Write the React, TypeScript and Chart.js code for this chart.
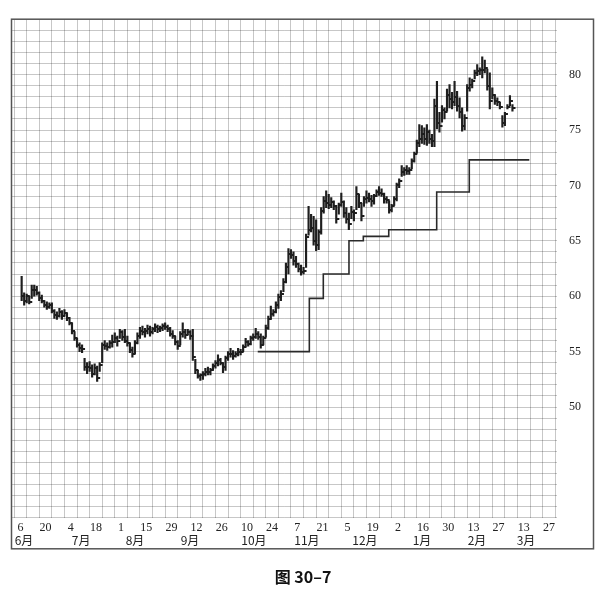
import React, { useEffect, useRef } from "react";
import { Chart, registerables } from "chart.js";

Chart.register(...registerables);

// x unit = one week column (week 0 = the week of June 6)
const dateLabels = ["6", "20", "4", "18", "1", "15", "29", "12", "26", "10", "24", "7", "21", "5", "19", "2", "16", "30", "13", "27", "13", "27"];
const monthLabels = ["6月", "7月", "8月", "9月", "10月", "11月", "12月", "1月", "2月", "3月"];
const monthWeeks = [0.79, 5.32, 9.61, 13.98, 19.06, 23.27, 27.88, 32.41, 36.78, 40.68];
const yTickLabels = [50, 55, 60, 65, 70, 75, 80];
const caption = "图 30–7";

// daily bars: first bar in week 0.6, five trading days per week
const firstBarWeek = 0.6;
const barsPerWeek = 5;

const highs = [
  61.8, 60.3, 60.2, 60.0, 61.0, 61.0, 60.9, 60.4, 60.1, 59.6,
  59.5, 59.4, 59.4, 58.8, 58.6, 58.9, 58.7, 58.8, 58.5, 58.1,
  57.6, 56.8, 56.2, 55.8, 55.6, 54.4, 54.0, 54.1, 53.8, 53.9,
  53.7, 54.0, 55.8, 56.0, 55.8, 56.0, 56.5, 56.7, 56.4, 57.0,
  56.9, 57.0, 56.4, 55.8, 55.4, 56.0, 56.7, 57.2, 57.3, 57.1,
  57.4, 57.3, 57.2, 57.5, 57.4, 57.3, 57.5, 57.6, 57.4, 57.2,
  56.9, 56.4, 56.0, 56.8, 57.6, 57.0, 57.0, 56.9, 57.0, 54.3,
  53.3, 53.0, 53.2, 53.5, 53.6, 53.5, 53.9, 54.2, 54.7, 54.4,
  54.0, 54.6, 55.0, 55.3, 55.1, 55.0, 55.3, 55.2, 55.6, 56.2,
  56.0, 56.4, 56.6, 57.1, 56.8, 56.6, 56.4, 57.4, 58.2, 59.1,
  58.8, 59.5, 60.2, 60.5, 61.6, 63.0, 64.3, 64.2, 64.0, 63.6,
  63.0, 62.8, 62.6, 65.6, 68.1, 67.4, 67.2, 66.9, 66.0, 68.0,
  69.0, 69.5, 69.2, 68.9, 68.6, 68.2, 68.4, 69.3, 68.6, 68.0,
  67.5, 68.1, 67.8, 69.9, 69.2, 68.4, 69.0, 69.5, 69.3, 69.1,
  69.2, 69.6, 69.9, 69.7, 69.3, 69.0, 68.6, 68.3, 69.0, 70.2,
  70.6, 71.8, 71.6, 71.8, 71.6, 72.4, 73.0, 74.1, 75.5, 75.4,
  75.2, 75.5, 75.0, 74.6, 77.8, 79.4, 76.6, 77.2, 77.0, 78.7,
  79.1, 78.4, 79.4, 78.5, 77.9, 77.0, 76.4, 79.1, 79.7, 79.6,
  80.4, 80.9, 80.6, 81.6, 81.3, 80.5, 80.15, 78.8, 78.2, 77.9,
  77.5, 76.3, 76.6, 77.3, 78.1, 77.3,
];

const lows = [
  59.6, 59.2, 59.4, 59.3, 59.8, 60.0, 60.1, 59.6, 59.4, 59.0,
  58.8, 58.9, 58.5, 58.0, 57.9, 58.1, 57.9, 58.2, 57.8, 57.4,
  56.6, 56.0, 55.4, 55.0, 54.9, 53.3, 53.0, 53.2, 52.7, 52.9,
  52.3, 53.2, 54.0, 55.2, 55.1, 55.3, 55.4, 55.8, 55.5, 56.2,
  56.0, 55.8, 55.5, 54.9, 54.5, 54.8, 55.7, 56.2, 56.5, 56.3,
  56.6, 56.4, 56.6, 56.8, 56.7, 56.8, 56.9, 57.0, 56.8, 56.4,
  56.2, 55.6, 55.2, 55.6, 56.3, 56.2, 56.5, 56.1, 54.2, 53.0,
  52.6, 52.4, 52.5, 52.8, 52.9, 52.9, 53.3, 53.5, 53.7, 53.8,
  53.1, 53.3, 54.2, 54.5, 54.3, 54.5, 54.6, 54.7, 55.0, 55.4,
  55.5, 55.6, 56.0, 56.2, 56.1, 55.3, 55.6, 56.3, 57.0, 57.9,
  58.2, 58.5, 58.9, 59.6, 60.4, 61.2, 62.0, 63.4, 62.8, 62.6,
  62.2, 61.9, 62.0, 62.6, 65.5, 65.8, 64.6, 64.1, 64.2, 65.6,
  67.5, 68.0, 67.9, 68.0, 67.8, 66.6, 67.4, 68.1, 67.1, 66.6,
  66.0, 67.0, 66.8, 67.8, 68.0, 66.8, 68.1, 68.4, 68.5, 68.1,
  68.3, 69.0, 69.1, 69.0, 68.4, 68.4, 67.5, 67.6, 68.2, 68.6,
  69.8, 70.8, 70.9, 71.0, 71.0, 71.5, 72.1, 72.9, 73.5, 73.8,
  73.7, 73.6, 73.8, 73.5, 73.5, 75.1, 74.8, 75.7, 76.0, 76.7,
  77.0, 76.9, 77.2, 76.7, 76.1, 74.9, 75.0, 76.7, 78.5, 78.8,
  79.6, 79.9, 80.0, 79.7, 80.15, 78.6, 76.9, 77.8, 77.3, 77.2,
  76.9, 75.25, 75.4, 76.9, 77.2, 76.7,
];

const closes = [
  60.0, 59.6, 60.0, 59.5, 60.6, 60.6, 60.3, 59.8, 59.6, 59.2,
  59.0, 59.2, 58.7, 58.3, 58.2, 58.6, 58.2, 58.5, 58.0, 57.6,
  56.9, 56.2, 55.6, 55.3, 55.2, 53.6, 53.6, 53.5, 53.0, 53.5,
  52.6, 53.8, 55.6, 55.5, 55.4, 55.8, 55.9, 56.2, 56.0, 56.8,
  56.3, 56.0, 55.8, 55.1, 54.8, 55.8, 56.4, 56.9, 56.8, 56.9,
  57.0, 56.8, 57.0, 57.2, 57.0, 57.1, 57.3, 57.2, 57.0, 56.6,
  56.4, 55.9, 55.5, 56.6, 56.8, 56.5, 56.8, 56.4, 54.5, 53.3,
  52.8, 52.9, 53.0, 53.2, 53.2, 53.3, 53.7, 54.0, 54.2, 54.0,
  53.6, 54.4, 54.8, 54.8, 54.6, 54.8, 55.0, 55.0, 55.4, 55.9,
  55.7, 56.2, 56.3, 56.6, 56.3, 55.6, 56.2, 57.1, 57.9, 58.4,
  58.6, 59.2, 59.9, 60.2, 61.3, 62.6, 63.8, 63.7, 63.2, 62.9,
  62.5, 62.2, 62.3, 65.3, 66.0, 66.2, 65.0, 64.6, 65.8, 67.7,
  68.6, 68.4, 68.2, 68.5, 68.1, 67.0, 68.2, 68.5, 67.5, 67.0,
  66.5, 67.6, 67.5, 69.2, 68.4, 67.2, 68.8, 68.9, 68.8, 68.6,
  69.0, 69.4, 69.3, 69.2, 68.8, 68.7, 67.8, 68.1, 68.8, 70.0,
  70.4, 71.2, 71.4, 71.3, 71.4, 72.2, 72.8, 73.8, 74.2, 74.6,
  74.2, 74.8, 74.2, 74.0, 77.2, 75.6, 75.4, 76.8, 76.6, 78.2,
  77.8, 77.5, 78.0, 77.2, 76.6, 75.4, 76.1, 78.8, 79.1, 79.4,
  80.1, 80.3, 80.4, 80.4, 80.6, 79.0, 77.6, 78.2, 77.6, 77.5,
  77.1, 75.6, 76.4, 77.1, 77.6, 77.0,
];

// trailing stop steps
const stopWeeks = [19.36, 23.46, 24.57, 26.61, 27.75, 29.77, 33.58, 36.17, 40.94];
const stopLevels = [55, 59.8, 62, 65, 65.4, 66, 69.4, 72.3, 72.3];

const X_MIN = -0.167;
const X_MAX = 43.14;
const Y_MIN = 40;
const Y_MAX = 85;

const framePlugin = {
  id: "frame",
  afterDraw(chart: any) {
    const { ctx, chartArea, scales } = chart;
    ctx.save();
    ctx.strokeStyle = "#555";
    ctx.lineWidth = 1.5;
    const left = chartArea.left - 0.5;
    const top = chartArea.top;
    const right = scales.y.right - 0.5;
    const bottom = scales.x2.bottom;
    ctx.strokeRect(left, top, right - left, bottom - top);
    ctx.restore();
  },
};

export default function App() {
  const ref = useRef<HTMLCanvasElement | null>(null);

  useEffect(() => {
    const canvas = ref.current;
    if (!canvas) return;

    const tick = document.createElement("canvas");
    tick.width = 8;
    tick.height = 2;
    const tctx = tick.getContext("2d");
    if (tctx) {
      tctx.fillStyle = "#1e1e1e";
      tctx.fillRect(4, 0, 3, 2);
    }

    const barData = highs.map((h, i) => ({ x: firstBarWeek + i / barsPerWeek, y: [lows[i], h] }));
    const closeData = closes.map((c, i) => ({ x: firstBarWeek + i / barsPerWeek, y: c }));
    const stopData = stopWeeks.map((w, i) => ({ x: w, y: stopLevels[i] }));

    const gridColor = "rgba(0,0,0,0.22)";
    const serif = { family: "'Liberation Serif', 'DejaVu Serif', serif", size: 12 };

    const chart = new Chart(canvas, {
      type: "bar",
      data: {
        datasets: [
          {
            type: "bar",
            data: barData as any,
            backgroundColor: "#1e1e1e",
            borderWidth: 0,
            barThickness: 1.5,
            xAxisID: "x",
            yAxisID: "y",
            order: 2,
          },
          {
            type: "scatter",
            data: closeData as any,
            pointStyle: tick as any,
            pointRadius: 2,
            xAxisID: "x",
            yAxisID: "y",
            order: 1,
          },
          {
            type: "line",
            data: stopData as any,
            stepped: "before",
            borderColor: "#2a2a2a",
            borderWidth: 1.6,
            pointRadius: 0,
            fill: false,
            xAxisID: "x",
            yAxisID: "y",
            order: 0,
          },
        ],
      },
      options: {
        responsive: false,
        animation: false,
        devicePixelRatio: 1,
        events: [],
        layout: { padding: { left: 12, top: 15, right: 15, bottom: 0 } },
        plugins: {
          legend: { display: false },
          tooltip: { enabled: false },
          title: {
            display: true,
            position: "bottom",
            text: caption,
            color: "#111",
            font: { family: "'Noto Sans CJK SC', sans-serif", size: 16, weight: "bold" },
            padding: { top: 19, bottom: 10 },
          },
        },
        scales: {
          x: {
            type: "linear",
            position: "bottom",
            weight: 0,
            min: X_MIN,
            max: X_MAX,
            offset: false,
            afterBuildTicks: (scale: any) => {
              const t = [];
              for (let w = 0; w <= 43; w++) t.push({ value: w });
              scale.ticks = t;
            },
            afterFit: (scale: any) => {
              scale.height = 15;
            },
            grid: { color: gridColor, lineWidth: 1, drawTicks: false, offset: false },
            border: { display: false },
            ticks: {
              autoSkip: false,
              maxRotation: 0,
              minRotation: 0,
              padding: 3,
              labelOffset: 6.3,
              color: "#222",
              font: serif,
              callback: (v: any) => {
                const n = Number(v);
                return n % 2 === 0 && n / 2 < dateLabels.length ? dateLabels[n / 2] : "";
              },
            },
          },
          x2: {
            type: "linear",
            position: "bottom",
            weight: 1,
            min: X_MIN,
            max: X_MAX,
            offset: false,
            afterBuildTicks: (scale: any) => {
              scale.ticks = monthWeeks.map((w) => ({ value: w }));
            },
            afterFit: (scale: any) => {
              scale.height = 16;
            },
            grid: { display: false, drawTicks: false, offset: false },
            border: { display: false },
            ticks: {
              autoSkip: false,
              maxRotation: 0,
              minRotation: 0,
              padding: 0,
              color: "#222",
              font: { family: "'Noto Sans CJK SC', sans-serif", size: 12 },
              callback: (_v: any, i: number) => monthLabels[i],
            },
          },
          y: {
            type: "linear",
            position: "right",
            min: Y_MIN,
            max: Y_MAX,
            afterBuildTicks: (scale: any) => {
              const t = [];
              for (let v = Y_MIN; v <= Y_MAX; v++) t.push({ value: v });
              scale.ticks = t;
            },
            afterFit: (scale: any) => {
              scale.width = 37;
            },
            grid: { color: gridColor, lineWidth: 1, drawTicks: false },
            border: { display: false },
            ticks: {
              autoSkip: false,
              padding: 12,
              color: "#222",
              font: serif,
              callback: (v: any) => (yTickLabels.includes(Number(v)) ? String(v) : ""),
            },
          },
        },
      } as any,
      plugins: [framePlugin],
    });

    return () => chart.destroy();
  }, []);

  return (
    <canvas
      ref={ref}
      width={609}
      height={597}
      style={{ position: "absolute", left: 0, top: 0, width: 609, height: 597 }}
    />
  );
}
